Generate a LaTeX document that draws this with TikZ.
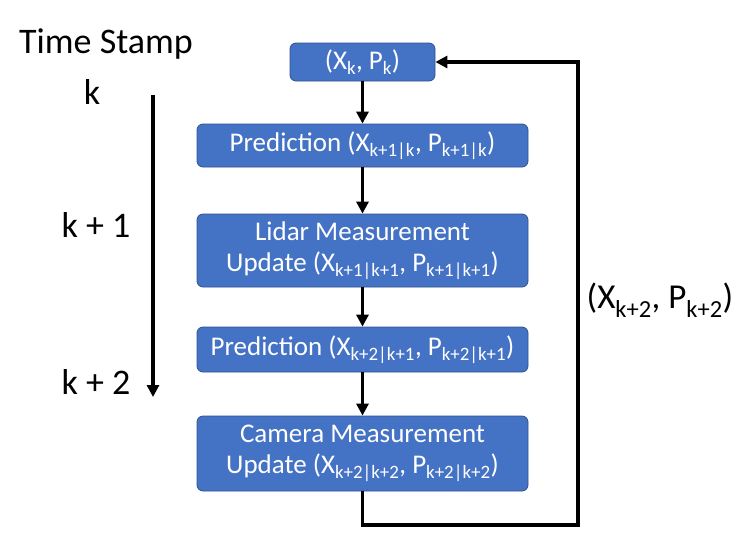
\documentclass[tikz,border=0pt]{standalone}
\usepackage{fontspec}
\setmainfont{Carlito}
\usetikzlibrary{arrows.meta}
\definecolor{boxblue}{HTML}{4472C4}
\definecolor{boxedge}{HTML}{2F528F}
\begin{document}
\begin{tikzpicture}
          [x=1pt,y=-1pt,
           every node/.style={inner sep=0pt, font=\fontsize{27}{31}\selectfont},
           stagebox/.style={draw=boxedge, line width=0.8pt, fill=boxblue, rounded corners=6pt, text=white, align=center,
                            execute at begin node={\vspace*{5pt}}},
           stamp/.style={font=\fontsize{36}{42}\selectfont},
           flow/.style={line width=3.2pt, -{Triangle[length=12pt,width=12pt]}}]
        \useasboundingbox (0,0) rectangle (740,558);

        \node[stagebox, minimum width=145pt, minimum height=38pt] (n1) at (362.5,62) {(X\textsubscript{k}, P\textsubscript{k})};
        \node[stagebox, minimum width=331pt, minimum height=43pt] (n2) at (362.5,145.5) {Prediction (X\textsubscript{k+1|k}, P\textsubscript{k+1|k})};
        \node[stagebox, minimum width=331pt, minimum height=73pt] (n3) at (362.5,250.5) {Lidar Measurement\\Update (X\textsubscript{k+1|k+1}, P\textsubscript{k+1|k+1})};
        \node[stagebox, minimum width=331pt, minimum height=45pt] (n4) at (362.5,349.5) {Prediction (X\textsubscript{k+2|k+1}, P\textsubscript{k+2|k+1})};
        \node[stagebox, minimum width=331pt, minimum height=75pt] (n5) at (362.5,453.5) {Camera Measurement\\Update (X\textsubscript{k+2|k+2}, P\textsubscript{k+2|k+2})};

        % time stamps
        \node[stamp] (ts) at (106,44) {Time Stamp};
        \node[stamp] (t0) at (92,92) {k};
        \node[stamp] (t1) at (96,225) {k + 1};
        \node[stamp] (t2) at (96,382) {k + 2};
        \coordinate (a1) at (153,95);
        \coordinate (a2) at (153,397);
        \draw[flow] (a1) -- (a2);

        \foreach \from/\to in {n1/n2, n2/n3, n3/n4, n4/n5}
          \draw[flow] (\from) -- (\to);

        % feedback loop
        \coordinate (c1) at (578,525);
        \coordinate (c2) at (578,62);
        \draw[flow] (n5.south) -- (n5.south |- c1) -- (c1) -- (c2) -- (n1.east);
        \node[font=\fontsize{35}{41}\selectfont] (fb) at (660,300) {(X\textsubscript{k+2}, P\textsubscript{k+2})};
      \end{tikzpicture}
\end{document}
